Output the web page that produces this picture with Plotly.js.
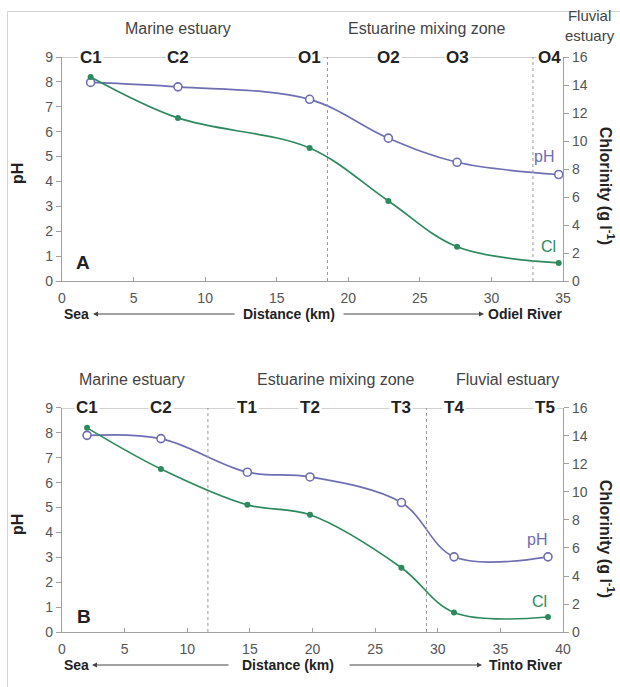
<!DOCTYPE html>
<html><head><meta charset="utf-8">
<script src="https://cdn.plot.ly/plotly-3.0.1.min.js"></script>
<style>
html,body{margin:0;padding:0;background:#fff;}
#frame{position:absolute;left:7px;top:11px;width:700px;height:800px;border-left:1px solid #d4d4d4;border-top:1px solid #d4d4d4;}
#chart{position:absolute;left:0;top:0;width:620px;height:687px;}
</style></head>
<body>
<div id="frame"></div>
<div id="chart"></div>
<script>
// ---- Panel A (Odiel) ----
const sitesA = ['C1','C2','O1','O2','O3','O4'];
const distA  = [2.0, 8.1, 17.3, 22.8, 27.6, 34.7];
const phA    = [7.98, 7.80, 7.30, 5.74, 4.77, 4.28];
const clA    = [14.58, 11.65, 9.50, 5.72, 2.45, 1.29];
const zoneLinesA = [18.55, 32.9];
// ---- Panel B (Tinto) ----
const sitesB = ['C1','C2','T1','T2','T3','T4','T5'];
const distB  = [2.0, 7.9, 14.8, 19.8, 27.1, 31.3, 38.8];
const phB    = [7.90, 7.77, 6.42, 6.23, 5.20, 3.02, 3.02];
const clB    = [14.58, 11.64, 9.08, 8.37, 4.59, 1.39, 1.07];
const zoneLinesB = [11.65, 29.1];
const zones = ['Marine estuary','Estuarine mixing zone','Fluvial estuary'];

const BLUE = '#6e6eb2', GREEN = '#2e8a5e', AX = '#a0a0a0', TXT = '#555';
const FONT = 'Liberation Sans, Arial, sans-serif';

function phTrace(x,y,xa,ya){return {x:x,y:y,xaxis:xa,yaxis:ya,type:'scatter',mode:'lines+markers',
  line:{shape:'spline',smoothing:1,color:BLUE,width:1.7},
  marker:{symbol:'circle',size:8,color:'#fff',line:{color:BLUE,width:1.6}},cliponaxis:false,hoverinfo:'skip'};}
function clTrace(x,y,xa,ya){return {x:x,y:y,xaxis:xa,yaxis:ya,type:'scatter',mode:'lines+markers',
  line:{shape:'spline',smoothing:1,color:GREEN,width:1.7},
  marker:{symbol:'circle',size:6,color:GREEN},cliponaxis:false,hoverinfo:'skip'};}

const data = [
  clTrace(distA,clA,'x','y3'), phTrace(distA,phA,'x','y'),
  clTrace(distB,clB,'x2','y4'), phTrace(distB,phB,'x2','y2')
];

function xax(range,anchor){return {domain:[0,1],anchor:anchor,range:range,dtick:5,tick0:0,
  showgrid:false,zeroline:false,showline:true,linecolor:AX,linewidth:1.2,
  ticks:'inside',ticklen:4,tickcolor:AX,ticklabelstandoff:4,tickfont:{family:FONT,size:14,color:TXT}};}
function yax(dom,anchor){return {domain:dom,anchor:anchor,range:[0,9],dtick:1,tick0:0,
  showgrid:false,zeroline:false,showline:true,linecolor:AX,linewidth:1.2,
  ticks:'outside',ticklen:5,tickcolor:AX,tickfont:{family:FONT,size:14,color:TXT}};}
function yaxR(over,anchor){return {overlaying:over,anchor:anchor,side:'right',range:[0,16],dtick:2,tick0:0,
  showgrid:false,zeroline:false,showline:true,linecolor:AX,linewidth:1.2,
  ticks:'outside',ticklen:5,tickcolor:AX,tickfont:{family:FONT,size:14,color:TXT}};}

const domA=[0.6104,1], domB=[0,0.3896];
const shapes=[], annotations=[];
shapes.push({type:'line',xref:'x',yref:'y',x0:0,x1:35,y0:9,y1:9,line:{color:AX,width:1}});
shapes.push({type:'line',xref:'x2',yref:'y2',x0:0,x1:40,y0:9,y1:9,line:{color:AX,width:1}});
zoneLinesA.forEach(v=>shapes.push({type:'line',xref:'x',yref:'y',x0:v,x1:v,y0:0,y1:9,line:{color:'#999',width:1,dash:'dot'}}));
zoneLinesB.forEach(v=>shapes.push({type:'line',xref:'x2',yref:'y2',x0:v,x1:v,y0:0,y1:9,line:{color:'#999',width:1,dash:'dot'}}));

function site(t,x,xr,yr,anchor){annotations.push({text:'<b>'+t+'</b>',x:x,y:9,xref:xr,yref:yr,showarrow:false,
  xanchor:anchor||'center',yanchor:'middle',bgcolor:'#fff',borderpad:1,font:{family:FONT,size:17,color:'#222'}});}
sitesA.forEach((s,i)=>site(s,i===sitesA.length-1?35:distA[i],'x','y',i===sitesA.length-1?'right':'center'));
sitesB.forEach((s,i)=>site(s,i===sitesB.length-1?39.5:distB[i],'x2','y2',i===sitesB.length-1?'right':'center'));

function ptxt(t,x,y,size,color,extra){annotations.push(Object.assign({text:t,x:x,y:y,xref:'paper',yref:'paper',showarrow:false,
  xanchor:'center',yanchor:'middle',font:{family:FONT,size:size,color:color}},extra||{}));}
ptxt(zones[0],0.2315,1.0504,16,'#444');
ptxt(zones[1],0.7285,1.0504,16,'#444');
ptxt('Fluvial<br>estuary',1.054,1.054,15,'#444');
ptxt(zones[0],0.1397,0.44,16,'#444');
ptxt(zones[1],0.547,0.44,16,'#444');
ptxt(zones[2],0.890,0.44,16,'#444');
ptxt('<b>pH</b>',-0.0898,0.7965,16,'#222',{textangle:-90});
ptxt('<b>pH</b>',-0.0898,0.186,16,'#222',{textangle:-90});
ptxt('<b>Chlorinity (g l<sup>-1</sup>)</b>',1.088,0.776,16,'#222',{textangle:90});
ptxt('<b>Chlorinity (g l<sup>-1</sup>)</b>',1.088,0.162,16,'#222',{textangle:90});
function distRow(py,river,lHead,lTail,rHead,rTail,center){
  const y=(632-py)/575, px=v=>(v-62)/501;
  ptxt('<b>Sea</b>',px(62),y,14,'#222',{xanchor:'left'});
  ptxt('<b>Distance (km)</b>',px(center),y,14,'#222');
  ptxt('<b>'+river+'</b>',px(564),y,14,'#222',{xanchor:'right'});
  annotations.push({text:'',x:px(lHead),y:y,xref:'paper',yref:'paper',ax:lTail-lHead,ay:0,showarrow:true,arrowhead:2,arrowsize:1,arrowwidth:1,arrowcolor:'#444',standoff:0,startstandoff:0});
  annotations.push({text:'',x:px(rHead),y:y,xref:'paper',yref:'paper',ax:rTail-rHead,ay:0,showarrow:true,arrowhead:2,arrowsize:1,arrowwidth:1,arrowcolor:'#444',standoff:0,startstandoff:0});
}
distRow(314,'Odiel River',93,236,484,342,289);
distRow(665,'Tinto River',92,230,482,348,288);
function dtxt(t,x,y,xr,yr,size,color){annotations.push({text:t,x:x,y:y,xref:xr,yref:yr,showarrow:false,xanchor:'center',yanchor:'middle',font:{family:FONT,size:size,color:color}});}
dtxt('pH',33.7,5.0,'x','y',16,BLUE);
dtxt('Cl',34.0,1.38,'x','y',16,GREEN);
dtxt('pH',37.9,3.72,'x2','y2',16,BLUE);
dtxt('Cl',38.1,1.22,'x2','y2',16,GREEN);
dtxt('<b>A</b>',1.45,0.74,'x','y',19,'#222');
dtxt('<b>B</b>',1.75,0.62,'x2','y2',19,'#222');

const layout = {
  width:620,height:687,margin:{l:62,r:57,t:57,b:55},
  paper_bgcolor:'rgba(0,0,0,0)',plot_bgcolor:'rgba(0,0,0,0)',showlegend:false,
  font:{family:FONT},
  xaxis:xax([0,35],'y'), yaxis:yax(domA,'x'), yaxis3:yaxR('y','x'),
  xaxis2:xax([0,40],'y2'), yaxis2:yax(domB,'x2'), yaxis4:yaxR('y2','x2'),
  shapes:shapes, annotations:annotations
};
Plotly.newPlot('chart',data,layout,{displayModeBar:false,staticPlot:true});
</script>
</body></html>
